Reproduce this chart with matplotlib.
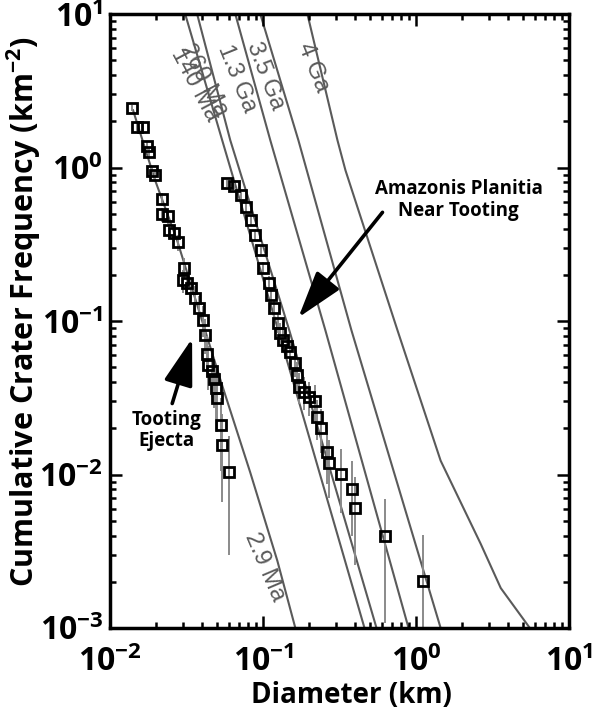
import numpy as np
import matplotlib
matplotlib.use('Agg')
import matplotlib.pyplot as plt
from matplotlib.ticker import LogLocator, FuncFormatter, NullFormatter

# ---------------- data ----------------
tooting_d = [0.0139, 0.0150, 0.0164, 0.0175, 0.0180, 0.0188, 0.0197, 0.0219, 0.0219, 0.0240,
             0.0243, 0.0263, 0.0279, 0.0305, 0.0301, 0.0319, 0.0339, 0.0360, 0.0383, 0.0406,
             0.0419, 0.0432, 0.0438, 0.0466, 0.0480, 0.0494, 0.0502, 0.0533, 0.0541, 0.0602]
tooting_n = [2.44, 1.83, 1.83, 1.38, 1.26, 0.945, 0.890, 0.621, 0.495, 0.481,
             0.390, 0.372, 0.325, 0.223, 0.184, 0.178, 0.163, 0.142, 0.121, 0.102,
             0.0816, 0.0614, 0.0520, 0.0475, 0.0421, 0.0368, 0.0317, 0.0211, 0.0156, 0.0104]
tooting_err = [0.113, 0.098, 0.098, 0.085, 0.081, 0.070, 0.068, 0.057, 0.051, 0.050,
               0.045, 0.044, 0.041, 0.034, 0.031, 0.030, 0.029, 0.027, 0.025, 0.023,
               0.021, 0.018, 0.0165, 0.0157, 0.0148, 0.0138, 0.0128, 0.0105, 0.0090, 0.0074]

amaz_d = [0.0584, 0.0649, 0.0721, 0.0777, 0.0838, 0.0891, 0.0975, 0.1005, 0.110, 0.1134,
          0.1186, 0.1259, 0.1298, 0.1358, 0.1443, 0.1510, 0.1627, 0.1677, 0.1728, 0.1864,
          0.2010, 0.2200, 0.2268, 0.2409, 0.2637, 0.2718, 0.3257, 0.3843, 0.4022, 0.623, 1.105]
amaz_n = [0.789, 0.755, 0.659, 0.550, 0.453, 0.361, 0.288, 0.223, 0.178, 0.147,
          0.121, 0.0977, 0.0841, 0.0757, 0.0692, 0.0632, 0.0536, 0.0448, 0.0374, 0.0347,
          0.0322, 0.0303, 0.0238, 0.0202, 0.0141, 0.0119, 0.0101, 0.00807, 0.00607, 0.00398, 0.00203]
amaz_err = [0.040, 0.039, 0.037, 0.0335, 0.030, 0.027, 0.024, 0.021, 0.019, 0.017,
            0.0157, 0.0141, 0.0131, 0.0124, 0.0119, 0.0114, 0.0105, 0.0096, 0.0087, 0.0084,
            0.0081, 0.0079, 0.0070, 0.0064, 0.0054, 0.0049, 0.0045, 0.0041, 0.0035, 0.0029, 0.00203]

# isochrones (diameter km, cumulative frequency km^-2)
iso_2_9ma_d = [0.01415, 0.01971, 0.02746, 0.05413, 0.08256, 0.1241, 0.1627]
iso_2_9ma_n = [2.36, 0.826, 0.335, 0.0380, 0.0103, 0.00274, 0.001]
iso_140ma_d = [0.0310, 0.0541, 0.1259, 0.4606]
iso_140ma_n = [10.0, 1.506, 0.0867, 0.001]
iso_260ma_d = [0.0371, 0.0611, 0.1487, 0.552]
iso_260ma_n = [10.0, 1.506, 0.0867, 0.001]
iso_1_3ga_d = [0.0659, 0.1116, 0.2559, 0.894]
iso_1_3ga_n = [10.0, 1.506, 0.0867, 0.001]
iso_3_5ga_d = [0.0960, 0.1703, 0.3788, 1.449]
iso_3_5ga_n = [10.0, 1.506, 0.0867, 0.001]
iso_4ga_d = [0.1950, 0.3066, 0.3459, 0.7576, 1.449, 2.649, 3.581, 5.546]
iso_4ga_n = [10.0, 1.506, 0.959, 0.0867, 0.0123, 0.00353, 0.00182, 0.001]

iso_labels = ['2.9 Ma', '140 Ma', '260 Ma', '1.3 Ga', '3.5 Ga', '4 Ga']
x_ticks = [1e-2, 1e-1, 1e0, 1e1]
y_ticks = [1e-3, 1e-2, 1e-1, 1e0, 1e1]

# ---------------- style ----------------
plt.rcParams['font.family'] = ['Open Sans', 'DejaVu Sans']
plt.rcParams['mathtext.fontset'] = 'custom'
plt.rcParams['mathtext.rm'] = 'Open Sans'
plt.rcParams['mathtext.bf'] = 'Open Sans:bold'
plt.rcParams['mathtext.it'] = 'Open Sans:italic'

iso_color = '#5a5a5a'
err_color = '#8a8a8a'

fig = plt.figure(figsize=(6.03, 7.10), dpi=100)
ax = fig.add_axes([110/603, 1-628/710, 459/603, 614/710])
ax.set_xscale('log')
ax.set_yscale('log')

isos = [(iso_2_9ma_d, iso_2_9ma_n), (iso_140ma_d, iso_140ma_n), (iso_260ma_d, iso_260ma_n),
        (iso_1_3ga_d, iso_1_3ga_n), (iso_3_5ga_d, iso_3_5ga_n), (iso_4ga_d, iso_4ga_n)]
for d, n in isos:
    ax.plot(d, n, color=iso_color, lw=1.5, zorder=1, solid_joinstyle='round')

for d, n, e in [(tooting_d, tooting_n, tooting_err), (amaz_d, amaz_n, amaz_err)]:
    ax.errorbar(d, n, yerr=e, fmt='none', ecolor=err_color, elinewidth=1.4, capsize=0, zorder=2)
    ax.plot(d, n, ls='none', marker='s', ms=7.2, mfc='none', mec='black', mew=2.0, zorder=3)

# isochrone labels
label_pos = [(0.1020, 0.0025, -67), (0.0360, 3.44, -62), (0.0413, 3.71, -62),
             (0.0679, 3.82, -68), (0.1035, 3.94, -69), (0.2135, 4.51, -68)]
for lab, (x, y, r) in zip(iso_labels, label_pos):
    ax.text(x, y, lab, rotation=r, rotation_mode='anchor', ha='center', va='center',
            color=iso_color, fontsize=17, family=['Liberation Sans', 'DejaVu Sans'], zorder=2)

# annotations
arrow_style = dict(arrowstyle='-|>,head_length=1.45,head_width=0.45', lw=2.6, color='black',
                   mutation_scale=20, shrinkA=0, shrinkB=0)
ax.annotate('', xy=(0.1703, 0.1054), xytext=(0.604, 0.5105), arrowprops=arrow_style, zorder=4)
ax.annotate('', xy=(0.0344, 0.0769), xytext=(0.0255, 0.0290), arrowprops=arrow_style, zorder=4)
ax.text(1.90, 0.616, 'Amazonis Planitia\nNear Tooting', ha='center', va='center',
        fontsize=13.5, fontweight='bold', linespacing=1.1, zorder=5)
ax.text(0.0233, 0.0193, 'Tooting\nEjecta', ha='center', va='center',
        fontsize=13.5, fontweight='bold', linespacing=1.1, zorder=5)

# axes styling
for s in ax.spines.values():
    s.set_linewidth(2.5)
ax.set_xticks(x_ticks)
ax.set_yticks(y_ticks)
ax.xaxis.set_minor_locator(LogLocator(base=10, subs=np.arange(2, 10), numticks=20))
ax.yaxis.set_minor_locator(LogLocator(base=10, subs=np.arange(2, 10), numticks=20))
fmt = FuncFormatter(lambda v, p: r'$\mathbf{10^{%d}}$' % int(round(np.log10(v))))
ax.xaxis.set_major_formatter(fmt)
ax.yaxis.set_major_formatter(fmt)
ax.xaxis.set_minor_formatter(NullFormatter())
ax.yaxis.set_minor_formatter(NullFormatter())
ax.set_xlim(1e-2, 1e1)
ax.set_ylim(1e-3, 1e1)
ax.tick_params(which='both', direction='in', top=True, right=True, width=1.8, labelsize=23)
ax.tick_params(which='major', length=8.5)
ax.tick_params(which='minor', length=4.5)
ax.tick_params(axis='x', which='major', pad=13)
ax.tick_params(axis='y', which='major', pad=5)

fig.text(351/603, 1-703/710, 'Diameter (km)', ha='center', va='baseline',
         fontsize=20, fontweight='bold')
fig.text(24/603, 1-312/710, r'Cumulative Crater Frequency (km$^{\mathbf{-2}}$)', ha='center',
         va='center', rotation=90, fontsize=22, fontweight='bold')

fig.savefig('out.png', dpi=100)
